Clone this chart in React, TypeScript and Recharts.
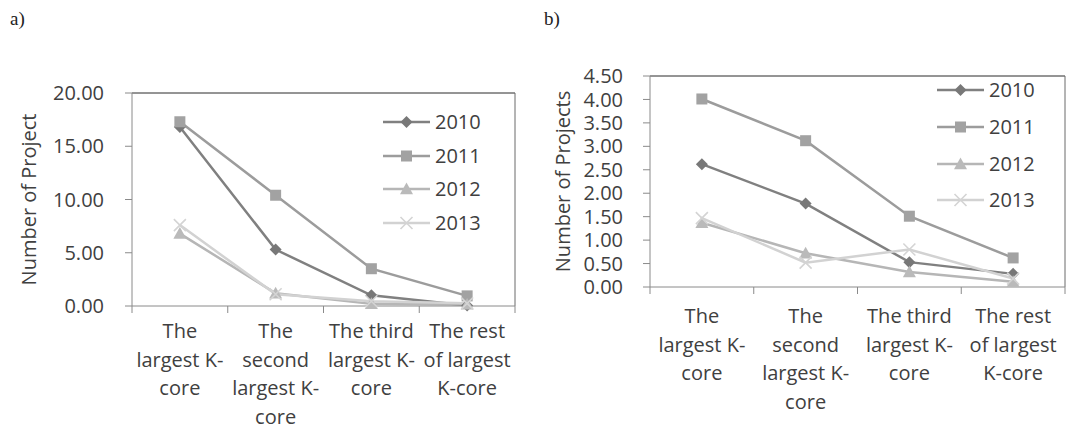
import React from "react";
import { LineChart, Line, XAxis, YAxis, Legend, Label } from "recharts";

// ---------- data ----------
const categoryLinesA: string[][] = [
  ["The", "largest K-", "core"],
  ["The", "second", "largest K-", "core"],
  ["The third", "largest K-", "core"],
  ["The rest", "of largest", "K-core"],
];
const categoryLinesB: string[][] = [
  ["The", "largest K-", "core"],
  ["The", "second", "largest K-", "core"],
  ["The third", "largest K-", "core"],
  ["The rest", "of largest", "K-core"],
];

const years = ["2010", "2011", "2012", "2013"];

const a2010 = [16.8, 5.3, 1.0, 0.05];
const a2011 = [17.3, 10.4, 3.5, 0.95];
const a2012 = [6.8, 1.2, 0.2, 0.15];
const a2013 = [7.6, 1.1, 0.45, 0.25];

const b2010 = [2.62, 1.78, 0.53, 0.28];
const b2011 = [4.01, 3.12, 1.51, 0.62];
const b2012 = [1.37, 0.72, 0.32, 0.11];
const b2013 = [1.47, 0.52, 0.8, 0.18];

const yTicksA = [0, 5, 10, 15, 20];
const yTicksB = [0, 0.5, 1, 1.5, 2, 2.5, 3, 3.5, 4, 4.5];

// ---------- styles ----------
const FONT = "'Open Sans', sans-serif";
const TEXT = "#404040";
const AXIS = "#8a8a8a";
const COLORS: Record<string, string> = {
  "2010": "#808080",
  "2011": "#9c9c9c",
  "2012": "#b6b6b6",
  "2013": "#d2d2d2",
};
const MARKER_COLORS: Record<string, string> = {
  "2010": "#787878",
  "2011": "#a2a2a2",
  "2012": "#bababa",
  "2013": "#d4d4d4",
};

function buildRows(lines: string[][], series: number[][]) {
  return lines.map((l, i) => {
    const row: Record<string, any> = { name: l.join(" ") };
    years.forEach((y, k) => {
      row[y] = series[k][i];
    });
    return row;
  });
}

const dataA = buildRows(categoryLinesA, [a2010, a2011, a2012, a2013]);
const dataB = buildRows(categoryLinesB, [b2010, b2011, b2012, b2013]);

function Marker({ year, cx, cy }: { year: string; cx: number; cy: number }) {
  const c = MARKER_COLORS[year];
  if (cx == null || cy == null) return null;
  if (year === "2010") {
    const s = 6;
    return <path d={`M${cx},${cy - s}L${cx + s},${cy}L${cx},${cy + s}L${cx - s},${cy}Z`} fill={c} />;
  }
  if (year === "2011") {
    const s = 5.5;
    return <rect x={cx - s} y={cy - s} width={2 * s} height={2 * s} fill={c} />;
  }
  if (year === "2012") {
    const s = 6.5;
    return <path d={`M${cx},${cy - s}L${cx + s},${cy + s * 0.8}L${cx - s},${cy + s * 0.8}Z`} fill={c} />;
  }
  const s = 6;
  return (
    <path
      d={`M${cx - s},${cy - s}L${cx + s},${cy + s}M${cx + s},${cy - s}L${cx - s},${cy + s}`}
      stroke={c}
      strokeWidth={1.6}
      fill="none"
    />
  );
}

function makeDot(year: string) {
  return (p: any) => <Marker key={`${year}-${p.index}`} year={year} cx={p.cx} cy={p.cy} />;
}

function makeCatTick(lines: string[][], halfBand: number, firstOffset: number, lineHeight: number) {
  return (p: any) => {
    const { x, y, index } = p;
    const ls = lines[index] || [];
    return (
      <g>
        <line x1={x - halfBand} y1={y} x2={x - halfBand} y2={y + 7} stroke={AXIS} />
        {index === lines.length - 1 && (
          <line x1={x + halfBand} y1={y} x2={x + halfBand} y2={y + 7} stroke={AXIS} />
        )}
        <text textAnchor="middle" fontFamily={FONT} fontSize={20} fill={TEXT}>
          {ls.map((t, i) => (
            <tspan key={i} x={x} y={y + firstOffset + i * lineHeight + 7}>
              {t}
            </tspan>
          ))}
        </text>
      </g>
    );
  };
}

function makeLegend(rowHeight: number) {
  return (props: any) => {
    const payload = props.payload || [];
    return (
      <div style={{ fontFamily: FONT, fontSize: 20, color: TEXT }}>
        {payload.map((e: any) => {
          const year = String(e.dataKey ?? e.value);
          return (
            <div key={year} style={{ display: "flex", alignItems: "center", height: rowHeight }}>
              <svg width={47} height={20} style={{ display: "block" }}>
                <line x1={0} y1={10} x2={47} y2={10} stroke={COLORS[year]} strokeWidth={2.5} />
                <Marker year={year} cx={23.5} cy={10} />
              </svg>
              <span style={{ marginLeft: 5, lineHeight: "20px" }}>{e.value}</span>
            </div>
          );
        })}
      </div>
    );
  };
}

function yLabel(text: string, offsetX: number) {
  return (p: any) => {
    const vb = p.viewBox || { x: 0, y: 0, width: 0, height: 0 };
    const cx = vb.x + offsetX;
    const cy = vb.y + vb.height / 2;
    return (
      <text
        x={cx}
        y={cy}
        transform={`rotate(-90 ${cx} ${cy})`}
        textAnchor="middle"
        dominantBaseline="central"
        fontFamily={FONT}
        fontSize={20}
        fill={TEXT}
      >
        {text}
      </text>
    );
  };
}

type PanelProps = {
  data: any[];
  lines: string[][];
  width: number;
  height: number;
  plotTop: number;
  plotRight: number;
  xAxisHeight: number;
  yWidth: number;
  yDomain: [number, number];
  yTicks: number[];
  yLabelText: string;
  yLabelOffset: number;
  tickMargin: number;
  legendLeft: number;
  legendTop: number;
  legendRow: number;
  firstLine: number;
  lineHeight: number;
};

function Panel(pp: PanelProps) {
  const plotW = pp.width - pp.plotRight - pp.yWidth;
  const halfBand = plotW / (pp.lines.length * 2);
  return (
    <LineChart
      width={pp.width}
      height={pp.height}
      data={pp.data}
      margin={{ top: pp.plotTop - 1, right: pp.plotRight - 1, bottom: 0, left: 0 }}
    >
      <XAxis
        xAxisId="top"
        orientation="top"
        dataKey="name"
        height={1}
        tick={false}
        tickLine={false}
        axisLine={{ stroke: "#2a2a2a" }}
        padding={{ left: halfBand, right: halfBand }}
      />
      <YAxis
        yAxisId="right"
        orientation="right"
        width={1}
        tick={false}
        tickLine={false}
        axisLine={{ stroke: "#6a6a6a" }}
        domain={pp.yDomain}
      />
      <XAxis
        xAxisId="cat"
        dataKey="name"
        axisLine={{ stroke: AXIS }}
        tickLine={false}
        tickSize={0}
        tickMargin={0}
        interval={0}
        height={pp.xAxisHeight}
        padding={{ left: halfBand, right: halfBand }}
        tick={makeCatTick(pp.lines, halfBand, pp.firstLine, pp.lineHeight)}
      />
      <YAxis
        yAxisId="val"
        width={pp.yWidth}
        domain={pp.yDomain}
        ticks={pp.yTicks}
        interval={0}
        tickFormatter={(v: number) => v.toFixed(2)}
        tick={{ fontFamily: FONT, fontSize: 20, fill: TEXT }}
        tickSize={7}
        tickMargin={pp.tickMargin}
        tickLine={{ stroke: AXIS }}
        axisLine={{ stroke: AXIS }}
      >
        <Label content={yLabel(pp.yLabelText, pp.yLabelOffset)} />
      </YAxis>
      <Legend
        layout="vertical"
        verticalAlign="middle"
        align="center"
        content={makeLegend(pp.legendRow)}
        wrapperStyle={{ left: pp.legendLeft, top: pp.legendTop, width: "auto" }}
      />
      {years.map((y) => (
        <Line
          key={y}
          xAxisId="cat"
          yAxisId="val"
          dataKey={y}
          name={y}
          type="linear"
          stroke={COLORS[y]}
          strokeWidth={2.5}
          dot={makeDot(y)}
          activeDot={false}
          isAnimationActive={false}
        />
      ))}
    </LineChart>
  );
}

export default function App() {
  const serif = {
    position: "absolute" as const,
    top: 8,
    fontFamily: "'Liberation Serif', serif",
    fontSize: 19,
    color: "#222",
  };
  return (
    <div style={{ position: "absolute", left: 0, top: 0, width: 1066, height: 428, background: "#fff" }}>
      <div style={{ ...serif, left: 10 }}>a)</div>
      <div style={{ ...serif, left: 544 }}>b)</div>
      <div style={{ position: "absolute", left: 0, top: 0 }}>
        <Panel
          data={dataA}
          lines={categoryLinesA}
          width={540}
          height={428}
          plotTop={93}
          plotRight={25}
          xAxisHeight={122}
          yWidth={132}
          yDomain={[0, 20]}
          yTicks={yTicksA}
          yLabelText="Number of Project"
          yLabelOffset={28}
          tickMargin={21}
          legendLeft={383}
          legendTop={105}
          legendRow={33.7}
          firstLine={25}
          lineHeight={28.7}
        />
      </div>
      <div style={{ position: "absolute", left: 530, top: 0 }}>
        <Panel
          data={dataB}
          lines={categoryLinesB}
          width={536}
          height={428}
          plotTop={76}
          plotRight={1}
          xAxisHeight={141}
          yWidth={120}
          yDomain={[0, 4.5]}
          yTicks={yTicksB}
          yLabelText="Number of Projects"
          yLabelOffset={32}
          tickMargin={20}
          legendLeft={407}
          legendTop={72}
          legendRow={36.7}
          firstLine={29}
          lineHeight={28.5}
        />
      </div>
    </div>
  );
}
